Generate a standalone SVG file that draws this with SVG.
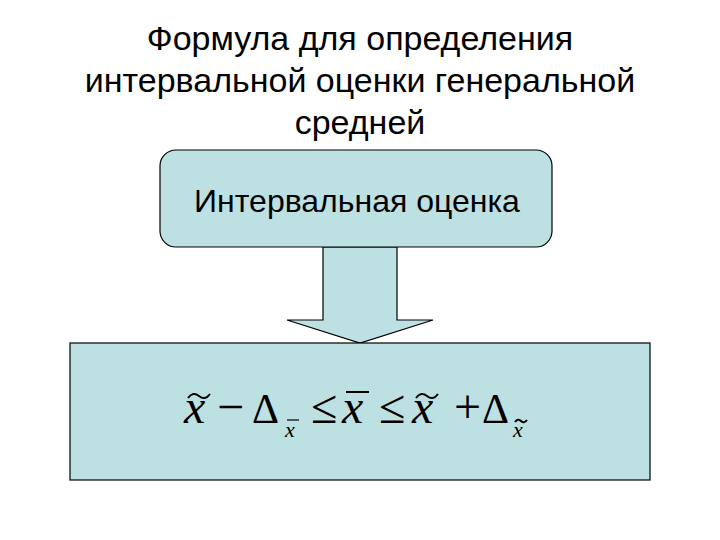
<svg xmlns="http://www.w3.org/2000/svg" width="720" height="540" viewBox="0 0 720 540">
<style>
.t{font-family:"Liberation Sans",Arial,sans-serif;font-size:34px;text-anchor:middle;fill:#000}
.m{font-family:"Liberation Serif","Times New Roman",serif;fill:#000}
.i{font-style:italic}
.box{fill:#bde0e3;stroke:#000;stroke-width:1.2}
.tl{fill:none;stroke:#000;stroke-width:2}
</style>
<rect width="720" height="540" fill="#fff"/>
<g id="title">
<text class="t" x="360" y="50">Формула для определения</text>
<text class="t" x="360" y="92">интервальной оценки генеральной</text>
<text class="t" x="360" y="134">средней</text>
</g>
<g id="connectors">
<polygon class="box" points="323,247 397,247 397,320 433,320 360,343 287,320 323,320"/>
</g>
<g id="node1">
<rect class="box" x="160" y="150" width="392" height="97" rx="16"/>
<text class="t" x="357" y="212" style="font-size:32px">Интервальная оценка</text>
</g>
<g id="node2">
<rect class="box" x="70" y="343" width="580" height="137"/>
<g class="m" font-size="48">
<text class="i" x="184" y="423">x</text>
<path class="tl" d="M188,398 q5,-7 11,-2 t11,-2"/>
<text x="217" y="423">−</text>
<text x="252" y="423" font-size="42">Δ</text>
<text class="i" x="285" y="437" font-size="22">x</text>
<line x1="287" y1="420" x2="299" y2="420" stroke="#000" stroke-width="1.2"/>
<text x="311" y="423">≤</text>
<text class="i" x="342" y="423">x</text>
<line x1="346" y1="392" x2="369" y2="392" stroke="#000" stroke-width="2"/>
<text x="379" y="423">≤</text>
<text class="i" x="412" y="423">x</text>
<path class="tl" d="M416,398 q5,-7 11,-2 t11,-2"/>
<text x="454" y="423">+</text>
<text x="482" y="423" font-size="42">Δ</text>
<text class="i" x="513" y="437" font-size="22">x</text>
<path class="tl" d="M515,422 q3,-4 6,-1 t6,-1" stroke-width="1.2"/>
</g>
</g>
</svg>
